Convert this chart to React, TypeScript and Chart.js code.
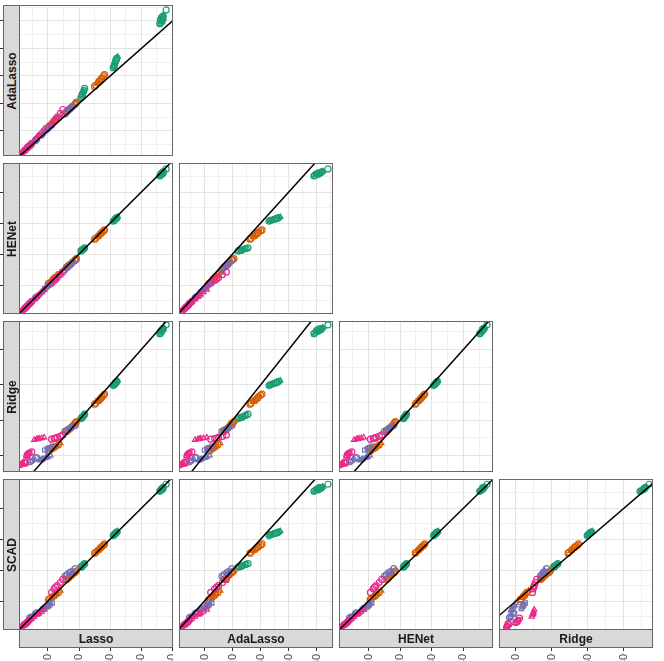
import React, { useEffect, useRef } from 'react';
import { Chart, registerables } from 'chart.js';
Chart.register(...registerables);

const FONT = "'Liberation Sans', Arial, Helvetica, sans-serif";

// ---- data: one entry per point; each line is one cluster
// G1 G2 G3 (green), O1 O2 O3 (orange), P1 P2 P3 P4 (purple), K1 K2 K3 (pink)
const lasso = [
  4.62, 4.66, 4.70, 4.64, 4.68, 4.72, 4.60, 4.80, 4.63, 4.67, 4.65, 4.69, 4.61, 4.71,
  3.10, 3.14, 3.18, 3.22, 3.12, 3.16, 3.24, 3.13, 3.17, 3.20, 3.11, 3.19,
  2.06, 2.10, 2.14, 2.18, 2.08, 2.16, 2.12, 2.09, 2.15, 2.11,
  2.50, 2.58, 2.64, 2.70, 2.76, 2.82, 2.62, 2.54, 2.60, 2.67, 2.73, 2.79,
  1.60, 1.68, 1.74, 1.80, 1.86, 1.92, 1.72, 1.64, 1.70, 1.77, 1.83, 1.89,
  1.02, 1.10, 1.18, 1.26, 1.34, 1.40, 1.06, 1.14, 1.22, 1.30,
  1.55, 1.62, 1.70, 1.78, 1.88, 1.58, 1.74,
  0.76, 0.84, 0.92, 1.00, 1.08, 0.80, 0.96,
  0.90, 0.98, 1.06, 1.14, 1.02,
  0.42, 0.50, 0.57, 0.64, 0.46, 0.60,
  1.12, 1.20, 1.30, 1.40, 1.48, 1.25,
  0.56, 0.64, 0.72, 0.80, 0.88, 0.68,
  0.12, 0.18, 0.24, 0.30, 0.36, 0.42, 0.48, 0.28, 0.15, 0.21, 0.33, 0.39,
];
const adaLasso = [
  5.05, 5.12, 5.18, 4.95, 5.00, 5.10, 4.90, 5.40, 5.02, 5.15, 4.98, 5.08, 4.93, 5.22,
  3.30, 3.42, 3.55, 3.65, 3.38, 3.48, 3.70, 3.35, 3.50, 3.60, 3.33, 3.58,
  2.20, 2.32, 2.42, 2.55, 2.28, 2.48, 2.38, 2.25, 2.45, 2.35,
  2.62, 2.72, 2.80, 2.88, 2.95, 3.05, 2.76, 2.66, 2.74, 2.84, 2.91, 3.00,
  1.70, 1.78, 1.85, 1.90, 1.96, 2.05, 1.82, 1.74, 1.80, 1.88, 1.93, 2.00,
  1.15, 1.24, 1.32, 1.40, 1.48, 1.56, 1.20, 1.28, 1.36, 1.44,
  1.62, 1.70, 1.80, 1.88, 1.98, 1.66, 1.84,
  0.80, 0.90, 1.00, 1.08, 1.18, 0.85, 1.04,
  1.00, 1.08, 1.16, 1.26, 1.12,
  0.46, 0.54, 0.62, 0.70, 0.50, 0.66,
  1.22, 1.36, 1.50, 1.64, 1.78, 1.43,
  0.66, 0.76, 0.86, 0.96, 1.08, 0.81,
  0.15, 0.22, 0.28, 0.35, 0.42, 0.48, 0.55, 0.32, 0.18, 0.25, 0.38, 0.45,
];
const henet = [
  4.58, 4.62, 4.66, 4.55, 4.60, 4.64, 4.52, 4.75, 4.57, 4.63, 4.59, 4.61, 4.54, 4.67,
  3.06, 3.10, 3.14, 3.18, 3.08, 3.12, 3.20, 3.09, 3.13, 3.16, 3.07, 3.15,
  2.10, 2.13, 2.16, 2.20, 2.11, 2.18, 2.15, 2.12, 2.17, 2.14,
  2.48, 2.55, 2.60, 2.66, 2.72, 2.78, 2.58, 2.51, 2.57, 2.63, 2.69, 2.75,
  1.58, 1.64, 1.70, 1.75, 1.80, 1.85, 1.68, 1.61, 1.66, 1.72, 1.78, 1.83,
  1.05, 1.12, 1.20, 1.27, 1.34, 1.40, 1.08, 1.16, 1.23, 1.30,
  1.50, 1.57, 1.64, 1.72, 1.80, 1.54, 1.68,
  0.74, 0.82, 0.90, 0.97, 1.04, 0.78, 0.93,
  0.88, 0.96, 1.03, 1.10, 0.99,
  0.40, 0.48, 0.55, 0.62, 0.44, 0.58,
  1.06, 1.15, 1.24, 1.34, 1.42, 1.19,
  0.54, 0.62, 0.70, 0.77, 0.85, 0.66,
  0.12, 0.17, 0.23, 0.29, 0.35, 0.41, 0.47, 0.27, 0.14, 0.20, 0.32, 0.38,
];
const ridge = [
  4.52, 4.56, 4.60, 4.48, 4.55, 4.58, 4.45, 4.70, 4.50, 4.57, 4.53, 4.59, 4.47, 4.62,
  2.98, 3.02, 3.06, 3.10, 3.00, 3.04, 3.12, 3.01, 3.05, 3.08, 2.99, 3.07,
  2.04, 2.08, 2.12, 2.17, 2.06, 2.14, 2.10, 2.07, 2.13, 2.09,
  2.45, 2.52, 2.56, 2.62, 2.68, 2.74, 2.55, 2.48, 2.54, 2.59, 2.65, 2.71,
  1.68, 1.74, 1.80, 1.85, 1.90, 1.96, 1.78, 1.71, 1.76, 1.82, 1.88, 1.93,
  1.12, 1.16, 1.22, 1.26, 1.30, 1.35, 1.14, 1.19, 1.24, 1.28,
  1.68, 1.72, 1.76, 1.80, 1.85, 1.70, 1.78,
  0.86, 0.90, 0.93, 0.96, 1.00, 0.88, 0.95,
  1.15, 1.18, 1.22, 1.26, 1.20,
  0.82, 0.86, 0.90, 0.94, 0.84, 0.92,
  1.46, 1.48, 1.51, 1.54, 1.58, 1.49,
  1.44, 1.46, 1.48, 1.49, 1.51, 1.47,
  0.74, 0.76, 0.80, 0.98, 1.04, 1.08, 1.10, 0.78, 0.75, 0.77, 1.00, 1.06,
];
const scad = [
  4.60, 4.64, 4.68, 4.58, 4.62, 4.66, 4.55, 4.78, 4.59, 4.65, 4.61, 4.67, 4.57, 4.70,
  3.12, 3.16, 3.20, 3.24, 3.14, 3.18, 3.26, 3.15, 3.19, 3.22, 3.13, 3.21,
  2.10, 2.13, 2.17, 2.21, 2.12, 2.19, 2.15, 2.11, 2.18, 2.14,
  2.55, 2.62, 2.67, 2.73, 2.78, 2.85, 2.65, 2.58, 2.64, 2.70, 2.76, 2.81,
  1.70, 1.76, 1.82, 1.87, 1.92, 1.98, 1.80, 1.73, 1.78, 1.85, 1.90, 1.95,
  1.05, 1.10, 1.16, 1.22, 1.28, 1.34, 1.07, 1.13, 1.19, 1.25,
  1.80, 1.86, 1.92, 1.98, 2.05, 1.83, 1.95,
  0.70, 0.76, 0.82, 0.88, 0.94, 0.73, 0.85,
  0.76, 0.82, 0.88, 0.94, 0.85,
  0.46, 0.51, 0.56, 0.62, 0.48, 0.59,
  1.28, 1.40, 1.50, 1.60, 1.70, 1.45,
  0.50, 0.56, 0.61, 0.66, 0.72, 0.58,
  0.15, 0.19, 0.24, 0.29, 0.34, 0.40, 0.45, 0.26, 0.17, 0.21, 0.31, 0.37,
];
// group: 0 green, 1 orange, 2 purple, 3 pink
const group = [
  0, 0, 0, 0, 0, 0, 0, 0, 0, 0, 0, 0, 0, 0,
  0, 0, 0, 0, 0, 0, 0, 0, 0, 0, 0, 0,
  0, 0, 0, 0, 0, 0, 0, 0, 0, 0,
  1, 1, 1, 1, 1, 1, 1, 1, 1, 1, 1, 1,
  1, 1, 1, 1, 1, 1, 1, 1, 1, 1, 1, 1,
  1, 1, 1, 1, 1, 1, 1, 1, 1, 1,
  2, 2, 2, 2, 2, 2, 2,
  2, 2, 2, 2, 2, 2, 2,
  2, 2, 2, 2, 2,
  2, 2, 2, 2, 2, 2,
  3, 3, 3, 3, 3, 3,
  3, 3, 3, 3, 3, 3,
  3, 3, 3, 3, 3, 3, 3, 3, 3, 3, 3, 3,
];
// shape: o circle, t triangle, s square
const shape = [
  'o', 'o', 'o', 't', 'o', 's', 'o', 'o', 't', 'o', 's', 'o', 'o', 't',
  'o', 't', 'o', 'o', 's', 'o', 't', 'o', 's', 'o', 't', 'o',
  'o', 'o', 't', 'o', 's', 'o', 't', 'o', 's', 'o',
  'o', 't', 'o', 'o', 's', 'o', 't', 'o', 's', 't', 'o', 'o',
  'o', 'o', 't', 's', 'o', 'o', 't', 'o', 's', 'o', 't', 'o',
  'o', 't', 'o', 's', 'o', 't', 'o', 's', 'o', 't',
  'o', 'o', 'o', 't', 'o', 's', 'o',
  't', 't', 't', 't', 't', 't', 't',
  's', 's', 's', 's', 's',
  'o', 's', 't', 'o', 's', 'o',
  'o', 'o', 'o', 'o', 'o', 'o',
  't', 't', 't', 't', 't', 't',
  'o', 's', 'o', 't', 'o', 's', 'o', 'o', 's', 't', 'o', 's',
];

const groupColors = ['#1B9E77', '#D95F02', '#7570B3', '#E7298A'];
const groupOrder = [4, 3, 2, 1];

// axis ranges per method
const lassoRange = [0.072, 5.02];
const adaLassoRange = [0.09, 5.58];
const henetRange = [0.065, 4.94];
const ridgeRange = [0.53, 4.81];
const scadRange = [0.065, 4.95];

const gridTicks = [0.5, 1, 1.5, 2, 2.5, 3, 3.5, 4, 4.5, 5, 5.5];
const majorTicks = [1, 2, 3, 4, 5];
const tickLabels = ['0.010', '0.020', '0.030', '0.040', '0.050'];

const rowNames = ['AdaLasso', 'HENet', 'Ridge', 'SCAD'];
const colNames = ['Lasso', 'AdaLasso', 'HENet', 'Ridge'];

const values: Record<string, number[]> = { Lasso: lasso, AdaLasso: adaLasso, HENet: henet, Ridge: ridge, SCAD: scad };
const ranges: Record<string, number[]> = { Lasso: lassoRange, AdaLasso: adaLassoRange, HENet: henetRange, Ridge: ridgeRange, SCAD: scadRange };
const styleMap: Record<string, string> = { o: 'circle', t: 'triangle', s: 'rect' };

// layout
const colLeft = [19, 179, 339, 499];
const rowTop = [5, 163, 321, 479];
const panelW = 154;
const panelH = 151;
const PAGE_H = 661;

const isMajor = (v: number) => majorTicks.some((t) => Math.abs(t - v) < 1e-9);

const borderPlugin = {
  id: 'panelBorder',
  afterDatasetsDraw(chart: any) {
    const { ctx, chartArea: a } = chart;
    ctx.save();
    ctx.strokeStyle = '#666666';
    ctx.lineWidth = 1;
    ctx.strokeRect(a.left + 0.5, a.top + 0.5, a.right - a.left - 1, a.bottom - a.top - 1);
    ctx.restore();
  },
};

function Panel({ r, c }: { r: number; c: number }) {
  const ref = useRef<HTMLCanvasElement>(null);
  const xKey = colNames[c];
  const yKey = rowNames[r];
  const yAxisW = c === 0 ? colLeft[0] : 0;
  const left = c === 0 ? 0 : colLeft[c];
  const top = rowTop[r];
  const bottomRow = r === 3;
  const xAxisH = bottomRow ? PAGE_H - (rowTop[3] + panelH) : 0;
  const w = yAxisW + panelW;
  const h = panelH + xAxisH;

  useEffect(() => {
    const xs = values[xKey];
    const ys = values[yKey];
    const xr = ranges[xKey];
    const yr = ranges[yKey];
    const datasets: any[] = groupColors.map((col, g) => {
      const idx = group.map((gg, i) => (gg === g ? i : -1)).filter((i) => i >= 0);
      return {
        label: 'g' + g,
        data: idx.map((i) => ({ x: xs[i], y: ys[i] })),
        pointStyle: idx.map((i) => styleMap[shape[i]]),
        pointRadius: 3,
        pointBorderWidth: 1.2,
        pointBorderColor: col,
        pointBackgroundColor: 'rgba(0,0,0,0)',
        showLine: false,
        order: groupOrder[g],
      };
    });
    const lo = Math.min(xr[0], yr[0]) - 1;
    const hi = Math.max(xr[1], yr[1]) + 1;
    datasets.push({
      label: 'identity',
      data: [{ x: lo, y: lo }, { x: hi, y: hi }],
      showLine: true,
      borderColor: '#000000',
      borderWidth: 1.5,
      pointRadius: 0,
      clip: 0,
      order: 0,
    });

    const gridCommon = {
      color: (ctx: any) => (isMajor(ctx.tick.value) ? '#e3e3e3' : '#f0f0f0'),
      lineWidth: 1,
      tickColor: (ctx: any) => (isMajor(ctx.tick.value) ? '#333333' : 'rgba(0,0,0,0)'),
      tickWidth: 1,
    };

    const chart = new Chart(ref.current as HTMLCanvasElement, {
      type: 'scatter',
      data: { datasets },
      plugins: [borderPlugin],
      options: {
        responsive: false,
        animation: false,
        devicePixelRatio: 1,
        events: [],
        layout: { padding: 0, autoPadding: false },
        plugins: { legend: { display: false }, tooltip: { enabled: false } },
        scales: {
          x: {
            type: 'linear',
            min: xr[0],
            max: xr[1],
            afterBuildTicks: (s: any) => {
              s.ticks = gridTicks.filter((v) => v > xr[0] && v < xr[1]).map((v) => ({ value: v }));
            },
            afterFit: (s: any) => {
              s.height = xAxisH;
              s.paddingLeft = 0;
              s.paddingRight = 0;
            },
            border: { display: false },
            grid: { ...gridCommon, drawTicks: bottomRow, tickLength: 21 },
            ticks: {
              display: bottomRow,
              autoSkip: false,
              minRotation: 90,
              maxRotation: 90,
              padding: 3,
              color: '#4D4D4D',
              font: { family: FONT, size: 11 },
              callback: (v: any) => {
                const i = majorTicks.findIndex((t) => Math.abs(t - v) < 1e-9);
                return i >= 0 ? tickLabels[i] : '';
              },
            },
          },
          y: {
            type: 'linear',
            min: yr[0],
            max: yr[1],
            afterBuildTicks: (s: any) => {
              s.ticks = gridTicks.filter((v) => v > yr[0] && v < yr[1]).map((v) => ({ value: v }));
            },
            afterFit: (s: any) => {
              s.width = yAxisW;
              s.paddingTop = 0;
              s.paddingBottom = 0;
            },
            border: { display: false },
            grid: { ...gridCommon, drawTicks: c === 0, tickLength: yAxisW },
            ticks: { display: false },
          },
        },
      } as any,
    });
    return () => chart.destroy();
  }, [r, c]);

  return (
    <canvas
      ref={ref}
      width={w}
      height={h}
      style={{ position: 'absolute', left, top, width: w, height: h }}
    />
  );
}

export default function App() {
  useEffect(() => {
    document.body.style.margin = '0';
  }, []);
  const panels: React.ReactNode[] = [];
  for (let r = 0; r < 4; r++) {
    for (let c = 0; c <= r; c++) {
      panels.push(<Panel key={r + '-' + c} r={r} c={c} />);
    }
  }
  const stripText: React.CSSProperties = {
    font: `bold 12px ${FONT}`,
    color: '#1A1A1A',
    whiteSpace: 'nowrap',
  };
  return (
    <div
      style={{
        position: 'absolute',
        left: 0,
        top: 0,
        width: 664,
        height: PAGE_H,
        overflow: 'hidden',
        background: '#ffffff',
      }}
    >
      {panels}
      {rowNames.map((n, r) => (
        <div
          key={'rs' + n}
          style={{
            position: 'absolute',
            left: 3,
            top: rowTop[r],
            width: 17,
            height: panelH,
            background: '#D9D9D9',
            border: '1px solid #666666',
            boxSizing: 'border-box',
            display: 'flex',
            alignItems: 'center',
            justifyContent: 'center',
          }}
        >
          <span style={{ ...stripText, transform: 'rotate(-90deg)' }}>{n}</span>
        </div>
      ))}
      {colNames.map((n, c) => (
        <div
          key={'cs' + n}
          style={{
            position: 'absolute',
            left: colLeft[c],
            top: rowTop[3] + panelH - 1,
            width: panelW,
            height: 19,
            background: '#D9D9D9',
            border: '1px solid #666666',
            boxSizing: 'border-box',
            display: 'flex',
            alignItems: 'center',
            justifyContent: 'center',
          }}
        >
          <span style={stripText}>{n}</span>
        </div>
      ))}
    </div>
  );
}
